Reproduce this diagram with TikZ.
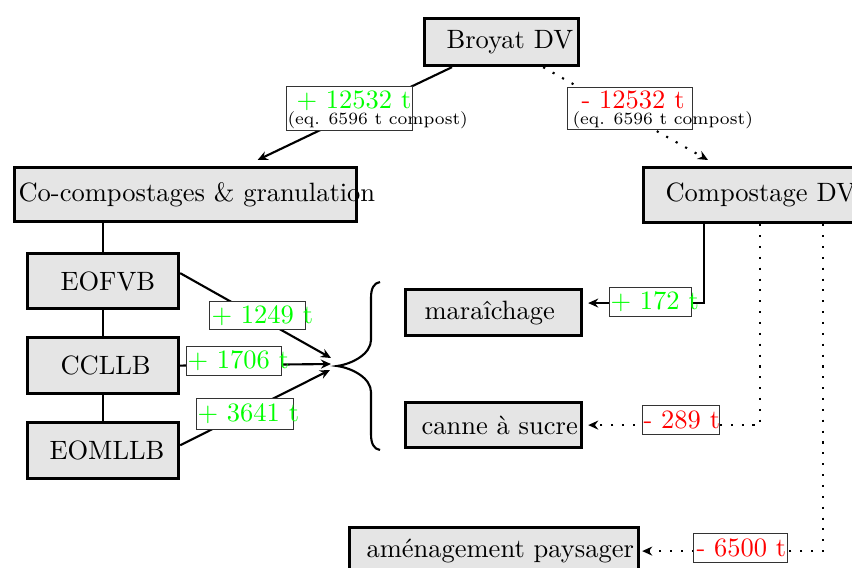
\documentclass[tikz,border=0pt]{standalone}
\usetikzlibrary{calc,arrows.meta}
\newdimen\pxu \pxu=0.3774pt
\begin{document}
\begin{tikzpicture}[x=0.3774pt,y=-0.3774pt,
  bx/.style={draw, very thick, fill=gray!20, inner sep=0pt, anchor=north west},
  lab/.style={draw=black!80, thin, fill=white, inner sep=0pt, anchor=north west},
  conn/.style={thick, -{Stealth[length=3.8pt,width=3.4pt]}},
  dotline/.style={dash pattern=on 0.8pt off 3.3pt},
  txt/.style={anchor=base west, inner sep=0pt},
  smalltxt/.style={txt, font=\fontsize{6.5pt}{8pt}\selectfont}]
\useasboundingbox (0,0) rectangle (852,568);
% boxes
\node[bx, minimum height=47\pxu] (broyat) at (423,17) {\makebox[154\pxu][l]{\hspace*{22\pxu}Broyat DV}};
\node[bx, minimum height=54\pxu] (cocomp) at (13,166) {\makebox[342\pxu][l]{\hspace*{4\pxu}Co-compostages \& granulation}};
\node[bx, minimum height=55\pxu] (compdv) at (642,166) {\makebox[225\pxu][l]{\hspace*{22\pxu}Compostage DV}};
\node[bx, minimum height=55\pxu] (eofvb) at (26,252) {\makebox[151\pxu][l]{\hspace*{33\pxu}EOFVB}};
\node[bx, minimum height=56\pxu] (ccllb) at (26,336) {\makebox[151\pxu][l]{\hspace*{33\pxu}CCLLB}};
\node[bx, minimum height=56\pxu] (eomllb) at (26,421) {\makebox[151\pxu][l]{\hspace*{22\pxu}EOMLLB}};
\node[bx, minimum height=46\pxu] (mara) at (404,288) {\makebox[176\pxu][l]{\hspace*{19\pxu}maraîchage}};
\node[bx, minimum height=45\pxu] (canne) at (404,401) {\makebox[176\pxu][l]{\hspace*{16\pxu}canne à sucre}};
\node[bx, minimum height=47\pxu] (amenag) at (348,526) {\makebox[289\pxu][l]{\hspace*{17\pxu}aménagement paysager}};
% brace
\draw[thick] (380,282) .. controls (374,283) and (371,288) .. (371,298) -- (371,340)
  .. controls (371,354) and (352,364) .. (337,366)
  .. controls (352,368) and (371,378) .. (371,392) -- (371,434)
  .. controls (371,444) and (374,449) .. (380,450);
\coordinate (brace) at (337,366);
% connectors
\draw[conn] ([xshift=29\pxu]broyat.south west) -- ($(cocomp.north)+(72,-6)$);
\draw[conn, dotline] ([xshift=-37\pxu]broyat.south east) -- ($(compdv.north west)+(66,-6)$);
\draw[thick] (eofvb.north) -- (eofvb.north |- cocomp.south);
\draw[thick] (eofvb.south) -- (ccllb.north);
\draw[thick] (ccllb.south) -- (eomllb.north);
\draw[conn] ([yshift=3pt]eofvb.east) -- ($(brace)+(-6,-8)$);
\draw[conn] (ccllb.east) -- ($(brace)+(-6,-2)$);
\draw[conn] ([yshift=2pt]eomllb.east) -- ($(brace)+(-7,4)$);
\draw[conn] ([xshift=62\pxu]compdv.south west) |- ([yshift=3.6pt,xshift=5\pxu]mara.east);
\draw[conn, dotline] ([xshift=118\pxu]compdv.south west) |- ([xshift=5\pxu]canne.east);
\draw[conn, dotline] ([xshift=181\pxu]compdv.south west) |- ([xshift=2\pxu]amenag.east);
% labels
\node[lab, minimum width=126\pxu, minimum height=44\pxu] (lp) at (286,86) {};
\node[txt] (lpt) at (296,108) {\color{green}+ 12532 t};
\node[smalltxt] (lps) at (287,124) {(eq. 6596 t compost)};
\node[lab, minimum width=125\pxu, minimum height=42\pxu] (lm) at (567,87) {};
\node[txt] (lmt) at (581,108) {\color{red}- 12532 t};
\node[smalltxt] (lms) at (572,124) {(eq. 6596 t compost)};
\node[lab, minimum height=28\pxu] (l1249) at (209,301) {\makebox[96\pxu][l]{\hspace*{2\pxu}\color{green}+ 1249 t}};
\node[lab, minimum height=29\pxu] (l1706) at (186,346) {\makebox[95\pxu][l]{\hspace*{1\pxu}\color{green}+ 1706 t}};
\node[lab, minimum height=31\pxu] (l3641) at (196,398) {\makebox[97\pxu][l]{\hspace*{1\pxu}\color{green}+ 3641 t}};
\node[lab, minimum height=29\pxu] (l172) at (609,287) {\makebox[82\pxu][l]{\hspace*{1\pxu}\color{green}+ 172 t}};
\node[lab, minimum height=29\pxu] (l289) at (642,405) {\makebox[77\pxu][l]{\hspace*{1\pxu}\color{red}- 289 t}};
\node[lab, minimum height=29\pxu] (l6500) at (693,533) {\makebox[94\pxu][l]{\hspace*{3\pxu}\color{red}- 6500 t}};
\end{tikzpicture}
\end{document}
